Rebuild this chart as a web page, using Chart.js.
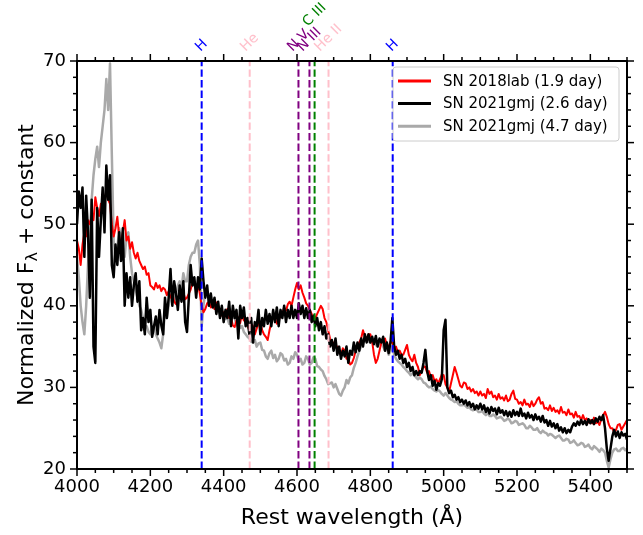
<!DOCTYPE html>
<html>
<head>
<meta charset="utf-8">
<script src="https://cdn.jsdelivr.net/npm/chart.js@4.4.0/dist/chart.umd.min.js"></script>
<style>
  html, body { margin: 0; padding: 0; background: #fff; }
  #wrap { width: 643px; height: 535px; }
</style>
</head>
<body>
<div id="wrap"><canvas id="spec" width="643" height="535"></canvas></div>
<script>
const FONT = "'DejaVu Sans', sans-serif";

// rest wavelength grid (Å), one sample every 5 Å, 4000-5500
const wavelength = [];
for (let w = 4000; w <= 5500; w += 5) wavelength.push(w);

// normalized flux + constant (one row = 100 Å)
const flux2018lab = [
  48, 47, 45, 47.5, 49, 48.5, 50.5, 50, 51, 50.5, 53.3, 52, 51, 52.5, 51.5, 53, 54, 53, 52.5, 50,
  48.5, 49.5, 50.9, 48.5, 47.5, 49, 50.5, 48, 48.5, 47, 47.8, 46.5, 45.8, 46.5, 45.5, 45, 44.5, 44.8, 43.8, 44,
  42.5, 42.3, 42, 42.8, 42.2, 42.5, 41.8, 42.2, 42, 41.3, 41.8, 41, 41.5, 40.5, 40.2, 41, 41.5, 41.2, 41.7, 40.8,
  41, 41.5, 42, 42.8, 43, 42.2, 42.6, 41.5, 40, 39.2, 39.6, 40.3, 40.5, 39.8, 40.2, 39.6, 40.4, 39.5, 39.6, 38.8,
  39.2, 38.7, 39.6, 38.5, 38.6, 37.6, 37.4, 38.2, 38.6, 37.9, 39, 38.2, 38.5, 37.6, 37, 37.8, 37.5, 36.5, 37.2, 37.8,
  38, 37, 36.5, 36.2, 35.8, 37, 38, 38.6, 38.5, 37.8, 38.2, 38.8, 39, 39.8, 39.4, 40.2, 40.5, 40, 41, 42,
  42.8, 42, 42.5, 41.6, 41, 40.3, 40, 39.5, 39, 38.2, 38.5, 39, 39.5, 40, 39.6, 38.5, 38, 37, 36, 35.2,
  35.5, 35, 35, 34.3, 34, 34.8, 34.5, 33.5, 33.5, 32.8, 33, 33.6, 34.5, 35, 35.5, 36, 37, 36.2, 36, 36.5,
  36.5, 35.6, 34, 33, 33.5, 34.5, 35.5, 35.8, 36, 35.2, 35, 35.6, 35.5, 34.8, 35, 34.3, 34.5, 34, 34, 34.6,
  35.2, 34, 33.5, 33.2, 34, 33, 32.5, 31.5, 32, 32.6, 32.5, 31.8, 32, 31.2, 31.5, 30.8, 31, 30.5, 31, 31.6,
  31.5, 30.4, 30, 29.5, 30.5, 31.5, 32.5, 31.8, 31, 30.2, 30, 30.6, 30.5, 29.8, 30, 29.5, 29.8, 29.3, 29.5, 29,
  29.5, 29, 29.2, 28.7, 29.8, 29.2, 29.5, 28.8, 29, 28.5, 29.2, 28.6, 28.8, 28.4, 29, 28.3, 28.5, 29.2, 29.6, 28.6,
  28.5, 28, 28.2, 27.8, 28.5, 27.9, 28, 27.6, 28.3, 27.7, 28, 28.5, 28.8, 28, 28.2, 27.4, 27.5, 27.2, 27.8, 27.1,
  27.5, 27, 27.2, 26.8, 27.6, 26.9, 27, 26.6, 27.3, 26.7, 26.8, 26.3, 27, 26.4, 26.5, 26, 26.6, 26, 26.2, 25.7,
  26, 25.6, 26.3, 25.6, 25.8, 25.4, 26.2, 26.6, 27, 26.4, 25.5, 25, 25, 24.5, 24.8, 25.4, 25.5, 24.8, 25.2, 25.6,
  26
];
const flux2021gmjDay26 = [
  50, 54, 52, 54.5, 46, 53.5, 49, 41, 53, 35, 33, 52, 46, 50.5, 54.5, 49, 57.2, 53, 56, 45,
  43.5, 47.5, 45, 49, 45.5, 49.5, 40, 44, 41, 43.5, 40, 42.5, 44, 40.5, 43, 37, 38.5, 36.5, 41, 38,
  39.5, 36.2, 37.5, 38.7, 36.5, 39.5, 37.6, 36.5, 41, 38.5, 41, 44.5, 40, 43, 41.5, 39.5, 42.5, 40.5, 43, 38,
  36.8, 41, 45, 42.5, 43.5, 41, 43.5, 42, 45.8, 43, 41, 42.5, 40, 41.5, 39.8, 41, 39, 40.5, 38.5, 40,
  38, 39.5, 38.5, 40.5, 37.5, 40, 38.5, 39.5, 36, 40, 38.5, 39.8, 37.5, 38.5, 36.5, 38.5, 35.5, 38, 37.5, 39.5,
  36.5, 38.5, 37.5, 39.5, 37.8, 39, 37.5, 39.5, 38, 39.8, 37.5, 39.5, 38.5, 40, 38, 39.5, 38.5, 40, 38.5, 39.5,
  38.5, 40.3, 39, 40, 38.5, 39.7, 38.5, 39.5, 38, 38.8, 37.5, 38.5, 37, 38, 36.5, 37.5, 36, 36.5, 35, 35.8,
  34.5, 36, 34, 35, 33.5, 34.5, 33.8, 35, 33, 34.5, 34, 35.5, 34.3, 35.5, 34.5, 36, 35, 36.5, 35.5, 36.5,
  35.5, 36.2, 35.3, 36.3, 35, 36, 35.5, 36.2, 34.5, 35.5, 34.2, 35.5, 38.5, 35, 34, 34.5, 33.5, 34, 33, 33.5,
  32.5, 33, 32, 32.5, 31.5, 32, 31.5, 32, 31.8, 33, 34.6, 32, 30.9, 31.5, 30.2, 30.8, 29.7, 30.5, 30.2, 31,
  37, 38.3, 30, 29.3, 29.6, 28.8, 29.1, 28.5, 28.8, 28.2, 28.5, 28, 28.4, 27.8, 28.2, 27.6, 28, 27.3, 27.8, 27.4,
  28, 27.3, 27.8, 27, 27.5, 26.8, 27.6, 27.1, 27.4, 26.7, 27.5, 26.9, 27.2, 26.6, 27.1, 26.5, 27, 26.4, 27.2, 26.6,
  27, 26.5, 27.4, 26.5, 26.8, 26.2, 26.9, 26.3, 26.6, 26, 26.7, 26.1, 26.4, 25.8, 26.5, 25.7, 26, 25.3, 25.9, 25.2,
  25.6, 25, 25.5, 24.7, 25.1, 24.5, 25, 24.4, 24.8, 24.5, 25.2, 25.6, 25.3, 25.8, 25.4, 26, 25.5, 25.9, 25.4, 26.1,
  25.6, 26, 25.5, 26.2, 25.8, 26.4, 26, 26.6, 25, 22.5, 21, 22.5, 24, 24.8, 24, 24.6, 23.8, 24.5, 24.1, 24.3,
  23.6
];
const flux2021gmjDay47 = [
  46, 43.5, 40, 38, 36.5, 40, 45, 49, 53, 56, 58, 59.5, 57, 60, 62, 64, 67.8, 64, 69.7, 58.5,
  48, 46, 47, 49.5, 48.5, 47, 46, 48.5, 49, 46, 44, 43, 42, 41, 40, 39.5, 38.5, 37.5, 37.5, 36.8,
  36.5, 37.5, 37.5, 36.5, 36, 35.5, 34.8, 36.5, 39.5, 38.5, 40, 41, 41, 40.5, 41.5, 42.5, 43, 42, 44, 43,
  43, 45, 46, 46.5, 46.5, 47.5, 48, 45, 37.5, 40, 42, 41.5, 41, 40.3, 40, 40.5, 40, 39.2, 39.5, 38.8,
  39, 38.4, 38.5, 37.8, 38, 38.8, 38.5, 37.6, 38, 37.3, 37.5, 36.8, 36.5, 36.2, 36, 35.6, 35.5, 35.8, 35, 35.4,
  35.5, 34.6, 34.5, 33.8, 33.5, 34.2, 34.5, 33.6, 34, 33.2, 33.5, 34.2, 34, 33.3, 33.5, 32.8, 33, 33.8, 33.5, 34.3,
  34, 33.2, 33.5, 32.8, 33, 33.8, 33.5, 32.8, 33, 33.7, 33.5, 32.6, 32.5, 32.2, 32, 31.4, 31, 30.4, 30.5, 30.6,
  30, 30.4, 29.8, 29.2, 29, 29.6, 30, 30.9, 30.5, 31.2, 31.5, 32.4, 33, 33.8, 34.5, 35, 35.5, 35.8, 36, 35.6,
  35.5, 35.8, 35.5, 35.2, 35, 35.6, 35.5, 35, 34.5, 34.8, 34, 34.5, 35, 34, 33.5, 33.2, 33, 32.8, 32.5, 32.3,
  32, 31.8, 31.5, 31.7, 31.5, 31.2, 31, 31.2, 31, 30.6, 30.5, 30.2, 30, 30.1, 29.8, 29.6, 29.5, 29.7, 29.5, 29.2,
  29, 29.3, 29, 28.7, 28.5, 28.4, 28.2, 28.3, 28, 27.8, 27.8, 27.9, 27.7, 27.5, 27.6, 27.3, 27.2, 27.5, 27.3, 27,
  27, 27.1, 26.8, 26.6, 26.9, 26.5, 26.5, 26.7, 26.5, 26.2, 26.3, 26.4, 26.2, 25.9, 26, 26.2, 26, 25.6, 25.7, 25.9,
  25.8, 25.4, 25.5, 25.6, 25.4, 25, 25, 25.3, 25.1, 24.8, 24.8, 25, 24.6, 24.4, 24.7, 24.5, 24.4, 24.1, 24.3, 24.2,
  24, 23.8, 24, 24.1, 23.8, 23.5, 23.5, 23.7, 23.6, 23.2, 23.3, 23.5, 23.2, 22.9, 23, 23.2, 23.1, 22.7, 22.8, 23,
  22.6, 22.4, 22.8, 22.6, 22.4, 22.1, 22.5, 22.3, 22, 21, 20.2, 21.2, 22, 22.4, 22.5, 22.2, 22.2, 22.5, 22.6, 22.3,
  22.5
];

const seriesLabels = ["SN 2018lab (1.9 day)", "SN 2021gmj (2.6 day)", "SN 2021gmj (4.7 day)"];
const seriesColors = ["red", "black", "darkgray"];

// marked lines
const lineNames = ["H", "He", "N V", "N III", "C III", "He II", "H"];
const lineWaves = [4340, 4471, 4604, 4634, 4648, 4686, 4861];
const lineColors = ["blue", "pink", "purple", "purple", "green", "pink", "blue"];

const xTicks = [4000, 4200, 4400, 4600, 4800, 5000, 5200, 5400];
const yTicks = [20, 30, 40, 50, 60, 70];

const toPoints = arr => wavelength.map((w, i) => ({ x: w, y: arr[i] }));

// frame, ticks, line markers, legend and axis titles
const decor = {
  id: "decor",
  afterDatasetsDraw(chart) {
    const { ctx, chartArea: a, scales: { x } } = chart;
    ctx.save();
    ctx.lineWidth = 2;
    ctx.setLineDash([7.4, 3.2]);
    lineWaves.forEach((w, i) => {
      const px = x.getPixelForValue(w);
      ctx.strokeStyle = lineColors[i];
      ctx.beginPath();
      ctx.moveTo(px, a.bottom);
      ctx.lineTo(px, a.top);
      ctx.stroke();
    });
    ctx.restore();
  },
  afterDraw(chart) {
    const { ctx, chartArea: a, scales: { x, y } } = chart;
    ctx.save();

    // ticks on all four sides, pointing out
    ctx.strokeStyle = "black";
    ctx.lineWidth = 1.5;
    const tick = (x1, y1, x2, y2) => { ctx.beginPath(); ctx.moveTo(x1, y1); ctx.lineTo(x2, y2); ctx.stroke(); };
    for (let v = 4000; v <= 5500; v += 50) {
      const px = x.getPixelForValue(v);
      const len = v % 200 === 0 ? 7 : 4;
      tick(px, a.bottom, px, a.bottom + len);
      tick(px, a.top, px, a.top - len);
    }
    for (let v = 20; v <= 70; v += 2) {
      const py = y.getPixelForValue(v);
      const len = v % 10 === 0 ? 7 : 4;
      tick(a.left, py, a.left - len, py);
      tick(a.right, py, a.right + len, py);
    }
    ctx.lineWidth = 2;
    ctx.strokeRect(a.left, a.top, a.right - a.left, a.bottom - a.top);

    // line labels, rotated
    ctx.font = "14px " + FONT;
    ctx.textAlign = "center";
    ctx.textBaseline = "middle";
    lineNames.forEach((name, i) => {
      const px = x.getPixelForValue(lineWaves[i]);
      const w = ctx.measureText(name).width;
      const half = (w + 10) / (2 * Math.SQRT2);
      const bottom = name === "C III" ? 28 : 53;
      ctx.save();
      ctx.translate(px, bottom - half);
      ctx.rotate(-Math.PI / 4);
      ctx.fillStyle = lineColors[i];
      ctx.fillText(name, 0, 0);
      ctx.restore();
    });

    // legend box
    const lx = 393, ly = 67, lw = 226, lh = 74;
    ctx.beginPath();
    ctx.roundRect(lx, ly, lw, lh, 3);
    ctx.fillStyle = "rgba(255,255,255,0.85)";
    ctx.fill();
    ctx.lineWidth = 1;
    ctx.strokeStyle = "#cccccc";
    ctx.stroke();
    ctx.font = "15px " + FONT;
    ctx.textAlign = "left";
    seriesLabels.forEach((lab, i) => {
      const ry = 81 + 22.6 * i;
      ctx.strokeStyle = seriesColors[i];
      ctx.lineWidth = 3;
      ctx.beginPath();
      ctx.moveTo(398, ry);
      ctx.lineTo(431, ry);
      ctx.stroke();
      ctx.fillStyle = "black";
      ctx.fillText(lab, 443, ry + 1);
    });

    // x title
    ctx.font = "22px " + FONT;
    ctx.textAlign = "center";
    ctx.fillText("Rest wavelength (Å)", (a.left + a.right) / 2, 518);

    // y title with subscript lambda
    const big = "22px " + FONT, small = "16px " + FONT;
    const p1 = "Normalized F", p2 = "λ", p3 = " + constant";
    ctx.font = big;
    const w1 = ctx.measureText(p1).width, w3 = ctx.measureText(p3).width;
    ctx.font = small;
    const w2 = ctx.measureText(p2).width;
    const total = w1 + w2 + w3;
    ctx.translate(33, (a.top + a.bottom) / 2);
    ctx.rotate(-Math.PI / 2);
    ctx.textAlign = "left";
    ctx.textBaseline = "alphabetic";
    let cx = -total / 2;
    ctx.font = big;
    ctx.fillText(p1, cx, 0);
    cx += w1;
    ctx.font = small;
    ctx.fillText(p2, cx, 4);
    cx += w2;
    ctx.font = big;
    ctx.fillText(p3, cx, 0);

    ctx.restore();
  }
};

Chart.defaults.color = "#000";

new Chart(document.getElementById("spec"), {
  type: "line",
  data: {
    datasets: [
      { label: seriesLabels[0], data: toPoints(flux2018lab), borderColor: seriesColors[0], borderWidth: 2, order: 1 },
      { label: seriesLabels[1], data: toPoints(flux2021gmjDay26), borderColor: seriesColors[1], borderWidth: 2.5, order: 0 },
      { label: seriesLabels[2], data: toPoints(flux2021gmjDay47), borderColor: seriesColors[2], borderWidth: 2.5, order: 2 }
    ]
  },
  options: {
    responsive: false,
    animation: false,
    layout: { padding: { top: 61, right: 16, left: 0, bottom: 0 } },
    elements: {
      point: { radius: 0 },
      line: { tension: 0, borderJoinStyle: "round", fill: false }
    },
    plugins: { legend: { display: false }, tooltip: { enabled: false } },
    scales: {
      x: {
        type: "linear",
        min: 4000,
        max: 5500,
        grid: { display: false, drawTicks: false },
        border: { display: false },
        afterBuildTicks: s => { s.ticks = xTicks.map(v => ({ value: v })); },
        afterFit: s => { s.height = 66; },
        ticks: { autoSkip: false, maxRotation: 0, padding: 8, font: { family: FONT, size: 18 }, callback: v => String(v) }
      },
      y: {
        type: "linear",
        min: 20,
        max: 70,
        grid: { display: false, drawTicks: false },
        border: { display: false },
        afterBuildTicks: s => { s.ticks = yTicks.map(v => ({ value: v })); },
        afterFit: s => { s.width = 77; },
        ticks: { padding: 11, font: { family: FONT, size: 18 }, callback: v => String(v) }
      }
    }
  },
  plugins: [decor]
});
</script>
</body>
</html>
